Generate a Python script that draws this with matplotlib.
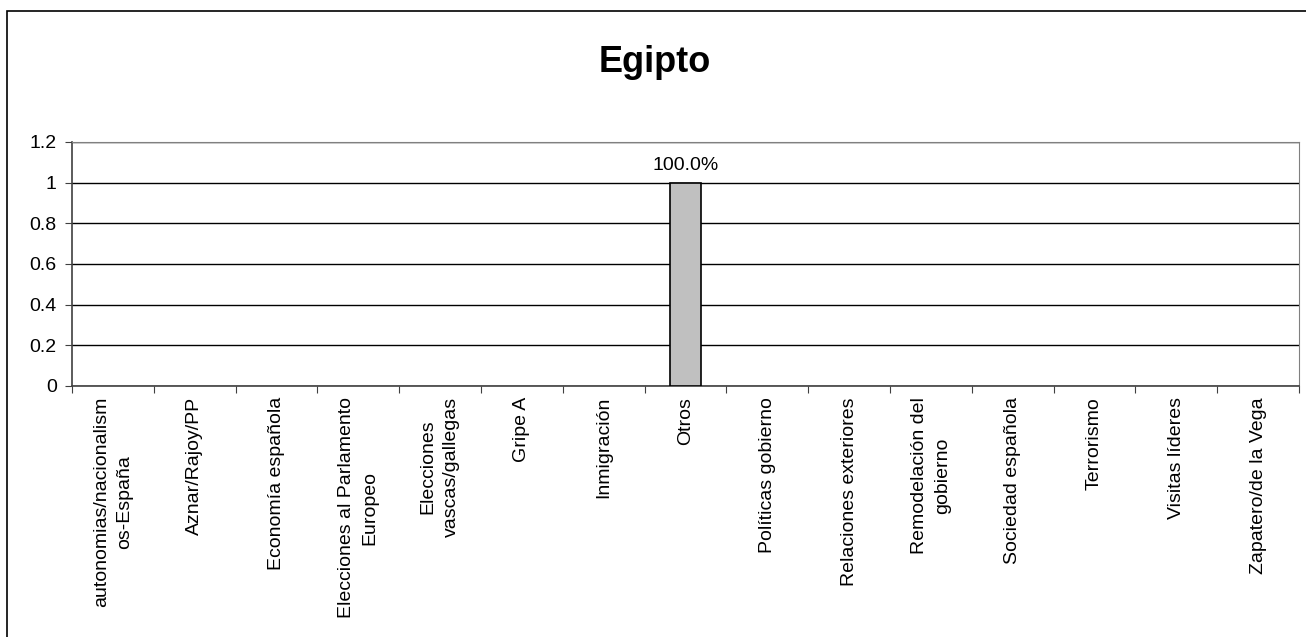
import matplotlib.pyplot as plt
from matplotlib.patches import Rectangle
import numpy as np

plt.rcParams['font.family'] = ['Liberation Sans', 'DejaVu Sans']

categories = ["autonomias/nacionalism\nos-España", "Aznar/Rajoy/PP", "Economía española",
              "Elecciones al Parlamento\nEuropeo", "Elecciones\nvascas/gallegas", "Gripe A",
              "Inmigración", "Otros", "Políticas gobierno", "Relaciones exteriores",
              "Remodelación del\ngobierno", "Sociedad española", "Terrorismo",
              "Visitas líderes", "Zapatero/de la Vega"]
values = [0, 0, 0, 0, 0, 0, 0, 1.0, 0, 0, 0, 0, 0, 0, 0]
title = "Egipto"

fig = plt.figure(figsize=(13.06, 6.37), dpi=100)
ax = fig.add_axes([72/1306, 1-386/637, (1299-72)/1306, (386-142)/637])

# outer chart frame
fig.patches.append(Rectangle((7/1306, -0.01), 1.02, 1-11/637+0.01, transform=fig.transFigure,
                             fill=False, edgecolor='black', linewidth=1.2, clip_on=False))

x = np.arange(len(categories))
vals = np.array(values)
nz = vals > 0
ax.bar(x[nz], vals[nz], width=0.39, color='#c0c0c0', edgecolor='black', linewidth=1.2, zorder=3)
for xi, v in zip(x, values):
    if v > 0:
        ax.text(xi, v + 0.085, f"{v*100:.1f}%", ha='center', va='center', fontsize=14)

ax.set_xlim(-0.5, len(categories) - 0.5)
ax.set_ylim(0, 1.2)
ax.set_yticks([0, 0.2, 0.4, 0.6, 0.8, 1, 1.2])
ax.set_yticklabels(["0", "0.2", "0.4", "0.6", "0.8", "1", "1.2"], fontsize=14)
ax.yaxis.grid(True, color='black', linewidth=1)
ax.set_axisbelow(True)

ax.set_xticks(np.arange(len(categories) + 1) - 0.5)
ax.set_xticklabels([])
ax.set_xticks(x, minor=True)
ax.set_xticklabels(categories, minor=True, rotation=90, fontsize=14, ha='center', va='top',
                   multialignment='center', linespacing=1.5)
ax.tick_params(axis='x', which='minor', length=0, pad=8)
ax.tick_params(axis='x', which='major', length=5, direction='out', color='#404040')
ax.tick_params(axis='y', length=5, direction='out', color='#404040', pad=6)

for s in ['top', 'right']:
    ax.spines[s].set_color('#808080')
for s in ['left', 'bottom']:
    ax.spines[s].set_color('#404040')
    ax.spines[s].set_linewidth(1.2)

fig.text(655/1306, 1-62/637, title, ha='center', va='center', fontsize=26, fontweight='bold')

fig.savefig("out.png", dpi=100)
